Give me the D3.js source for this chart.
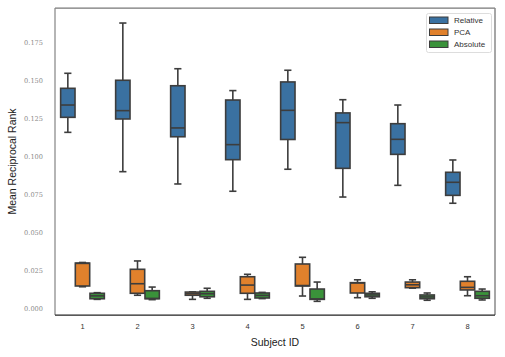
<!DOCTYPE html>
<html><head><meta charset="utf-8">
<script src="https://cdn.jsdelivr.net/npm/d3@7"></script>
<style>body{margin:0;background:#fff}</style>
</head><body>
<script>
const categories = ["1","2","3","4","5","6","7","8"];
const seriesNames = ["Relative","PCA","Absolute"];
const seriesColors = ["#3a71a1","#e1812c","#3a923a"];
// [whiskerLow, q1, median, q3, whiskerHigh]
const relative = [
  [0.1159,0.1258,0.1339,0.1449,0.1548],
  [0.0900,0.1247,0.1302,0.1502,0.1879],
  [0.0819,0.1130,0.1188,0.1466,0.1578],
  [0.0771,0.0979,0.1078,0.1372,0.1434],
  [0.0916,0.1112,0.1304,0.1491,0.1568],
  [0.0733,0.0922,0.1223,0.1287,0.1374],
  [0.0810,0.1014,0.1113,0.1216,0.1339],
  [0.0692,0.0744,0.0830,0.0896,0.0977]
];
const pca = [
  [0.0142,0.0147,0.0296,0.0298,0.0302],
  [0.0086,0.0099,0.0162,0.0257,0.0312],
  [0.0059,0.0086,0.0096,0.0107,0.0108],
  [0.0059,0.0099,0.0153,0.0208,0.0224],
  [0.0081,0.0147,0.0150,0.0292,0.0336],
  [0.0070,0.0101,0.0167,0.0169,0.0188],
  [0.0133,0.0136,0.0155,0.0173,0.0188],
  [0.0083,0.0121,0.0138,0.0178,0.0208]
];
const absolute = [
  [0.0059,0.0063,0.0082,0.0099,0.0103],
  [0.0057,0.0063,0.0065,0.0116,0.0140],
  [0.0066,0.0076,0.0096,0.0112,0.0132],
  [0.0064,0.0068,0.0085,0.0101,0.0105],
  [0.0046,0.0059,0.0062,0.0127,0.0173],
  [0.0066,0.0076,0.0088,0.0099,0.0109],
  [0.0053,0.0063,0.0075,0.0088,0.0101],
  [0.0055,0.0066,0.0083,0.0112,0.0127]
];
const yTicks = [0,0.025,0.05,0.075,0.1,0.125,0.15,0.175];

const W=505,H=357, m={l:55,r:10,t:8,b:42};
const svg=d3.select("body").append("svg").attr("width",W).attr("height",H);
const x=d3.scaleBand().domain(categories).range([m.l,W-m.r]).padding(0);
const y=d3.scaleLinear().domain([-0.0044,0.1978]).range([H-m.b,m.t]);
const hue=d3.scaleBand().domain(seriesNames).range([-0.4,0.4].map(v=>v*x.bandwidth()));
const bw=hue.bandwidth()*0.98;
const lineC="#3d3d3d";
const sans="'Liberation Sans', Arial, sans-serif";

const all=[relative,pca,absolute];
all.forEach((ser,si)=>{
  const g=svg.append("g");
  ser.forEach((d,ci)=>{
    const cx=x(categories[ci])+x.bandwidth()/2+hue(seriesNames[si])+hue.bandwidth()/2;
    const [lo,q1,md,q3,hi]=d;
    g.append("line").attr("x1",cx).attr("x2",cx).attr("y1",y(hi)).attr("y2",y(q3)).attr("stroke",lineC).attr("stroke-width",1.6);
    g.append("line").attr("x1",cx).attr("x2",cx).attr("y1",y(q1)).attr("y2",y(lo)).attr("stroke",lineC).attr("stroke-width",1.6);
    [lo,hi].forEach(v=>g.append("line").attr("x1",cx-bw/4).attr("x2",cx+bw/4).attr("y1",y(v)).attr("y2",y(v)).attr("stroke",lineC).attr("stroke-width",1.6));
    g.append("rect").attr("x",cx-bw/2).attr("width",bw).attr("y",y(q3)).attr("height",Math.max(0.5,y(q1)-y(q3)))
      .attr("fill",seriesColors[si]).attr("stroke",lineC).attr("stroke-width",1.6);
    g.append("line").attr("x1",cx-bw/2).attr("x2",cx+bw/2).attr("y1",y(md)).attr("y2",y(md)).attr("stroke",lineC).attr("stroke-width",1.6);
  });
});

// frame
const x0=m.l,x1=W-m.r,y0=m.t,y1=H-m.b;
svg.append("line").attr("x1",x0).attr("x2",x1).attr("y1",y0).attr("y2",y0).attr("stroke","#777").attr("stroke-width",1.25);
svg.append("line").attr("x1",x1).attr("x2",x1).attr("y1",y0).attr("y2",y1).attr("stroke","#888").attr("stroke-width",1.5);
svg.append("line").attr("x1",x0).attr("x2",x0).attr("y1",y0).attr("y2",y1).attr("stroke","#888").attr("stroke-width",1.25);
svg.append("line").attr("x1",x0).attr("x2",x1).attr("y1",y1).attr("y2",y1).attr("stroke","#222").attr("stroke-width",1.25);

// y axis
const ya=svg.append("g").attr("transform",`translate(${m.l},0)`)
  .call(d3.axisLeft(y).tickValues(yTicks).tickSize(0).tickPadding(12).tickFormat(d3.format(".3f")));
ya.select(".domain").remove();
ya.selectAll("text").attr("font-family","'DejaVu Serif', serif").attr("font-size",6.6).attr("fill","#8a8a8a");
// x axis
const xa=svg.append("g").attr("transform",`translate(0,${y1})`)
  .call(d3.axisBottom(x).tickSize(0).tickPadding(9));
xa.select(".domain").remove();
xa.selectAll("text").attr("font-family",sans).attr("font-size",7.5).attr("fill","#333");

svg.append("text").attr("x",(x0+x1)/2).attr("y",346).attr("text-anchor","middle")
  .attr("font-family",sans).attr("font-size",10.5).attr("fill","#222").text("Subject ID");
svg.append("text").attr("transform",`translate(16,${(y0+y1)/2}) rotate(-90)`).attr("text-anchor","middle")
  .attr("font-family",sans).attr("font-size",10.5).attr("fill","#222").text("Mean Reciprocal Rank");

// legend
const lg=svg.append("g");
lg.append("rect").attr("x",426.5).attr("y",13.5).attr("width",65).attr("height",39).attr("rx",2)
  .attr("fill","#fff").attr("stroke","#ddd").attr("stroke-width",1);
seriesNames.forEach((n,i)=>{
  const yy=20+i*12;
  lg.append("rect").attr("x",429.5).attr("y",yy-3).attr("width",18.5).attr("height",6.5)
    .attr("fill",seriesColors[i]).attr("stroke",lineC).attr("stroke-width",1);
  lg.append("text").attr("x",454).attr("y",yy+2.8).attr("font-family",sans)
    .attr("font-size",8).attr("fill","#333").text(n);
});
</script>
</body></html>
